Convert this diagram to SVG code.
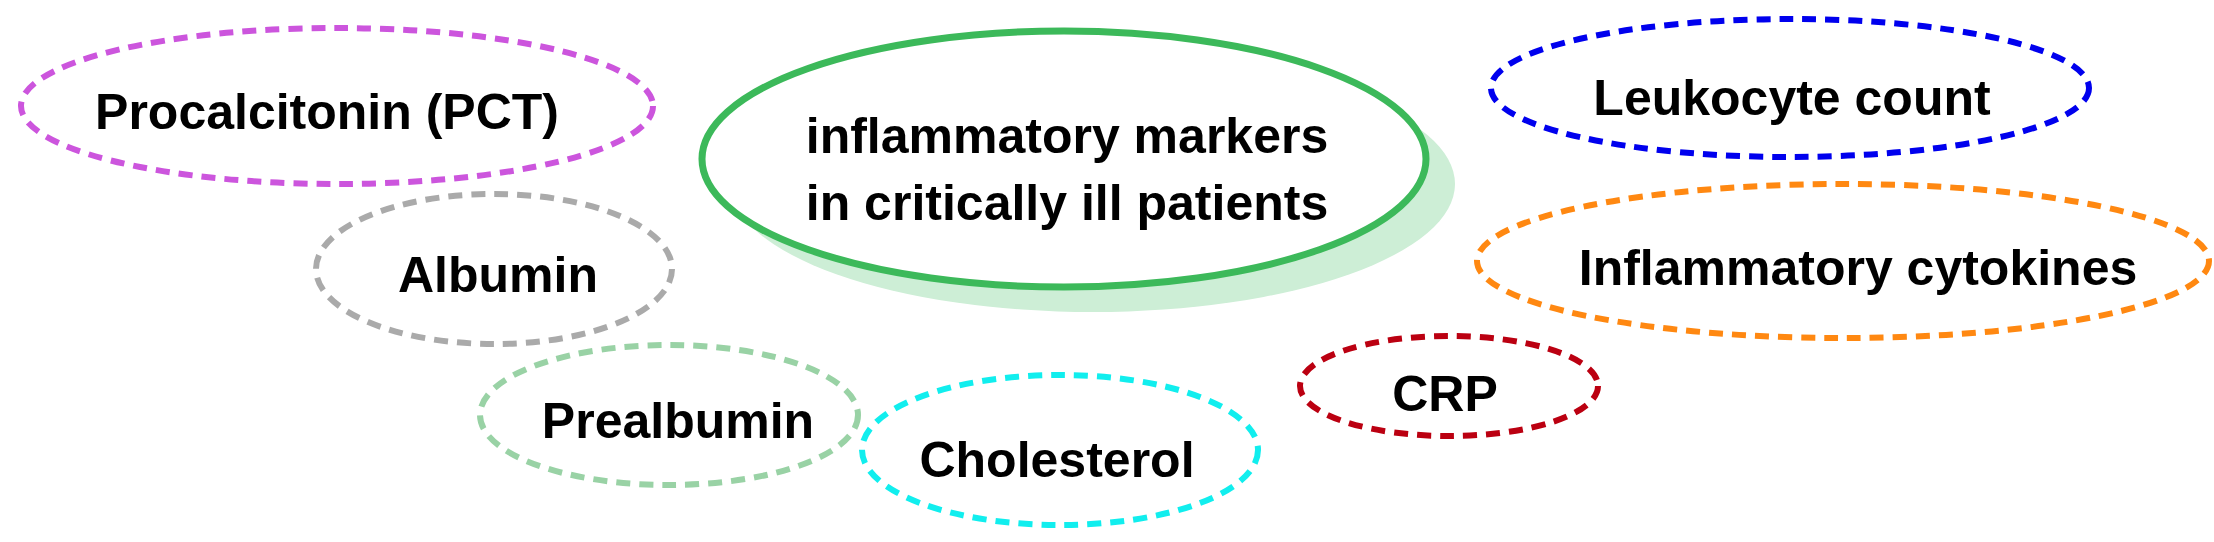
<svg xmlns="http://www.w3.org/2000/svg" width="2214" height="542" viewBox="0 0 2214 542">
<style>
text{font-family:"Liberation Sans",Arial,sans-serif;font-weight:bold;font-size:50px;fill:#000;text-anchor:middle;dominant-baseline:central}
.d{fill:none;stroke-width:6;stroke-dasharray:14 9}
</style>
<rect width="2214" height="542" fill="#fff"/>
<g id="center">
<ellipse cx="1093" cy="184" rx="362" ry="128" fill="#cdeed6"/>
<ellipse cx="1064" cy="159" rx="362" ry="128" fill="#fff" stroke="#3cb95a" stroke-width="7"/>
<text x="1067" y="136">inflammatory markers</text>
<text x="1067" y="203">in critically ill patients</text>
</g>
<g id="pct"><ellipse class="d" cx="337" cy="106" rx="316" ry="78" stroke="#cc55dd"/><text x="327" y="112">Procalcitonin (PCT)</text></g>
<g id="albumin"><ellipse class="d" cx="494" cy="269" rx="178" ry="75" stroke="#aaaaaa"/><text x="498" y="275">Albumin</text></g>
<g id="prealbumin"><ellipse class="d" cx="669" cy="415" rx="189" ry="70" stroke="#99d2a5"/><text x="678" y="421">Prealbumin</text></g>
<g id="cholesterol"><ellipse class="d" cx="1060" cy="450" rx="198" ry="75" stroke="#11eeee"/><text x="1057" y="460">Cholesterol</text></g>
<g id="crp"><ellipse class="d" cx="1449" cy="386" rx="149" ry="50" stroke="#bb0011"/><text x="1445" y="394">CRP</text></g>
<g id="leukocyte"><ellipse class="d" cx="1790" cy="88" rx="299" ry="69" stroke="#0000ee"/><text x="1792" y="98">Leukocyte count</text></g>
<g id="cytokines"><ellipse class="d" cx="1843" cy="261" rx="366" ry="77" stroke="#ff8811"/><text x="1858" y="268">Inflammatory cytokines</text></g>
<g id="connectors"/>
</svg>
